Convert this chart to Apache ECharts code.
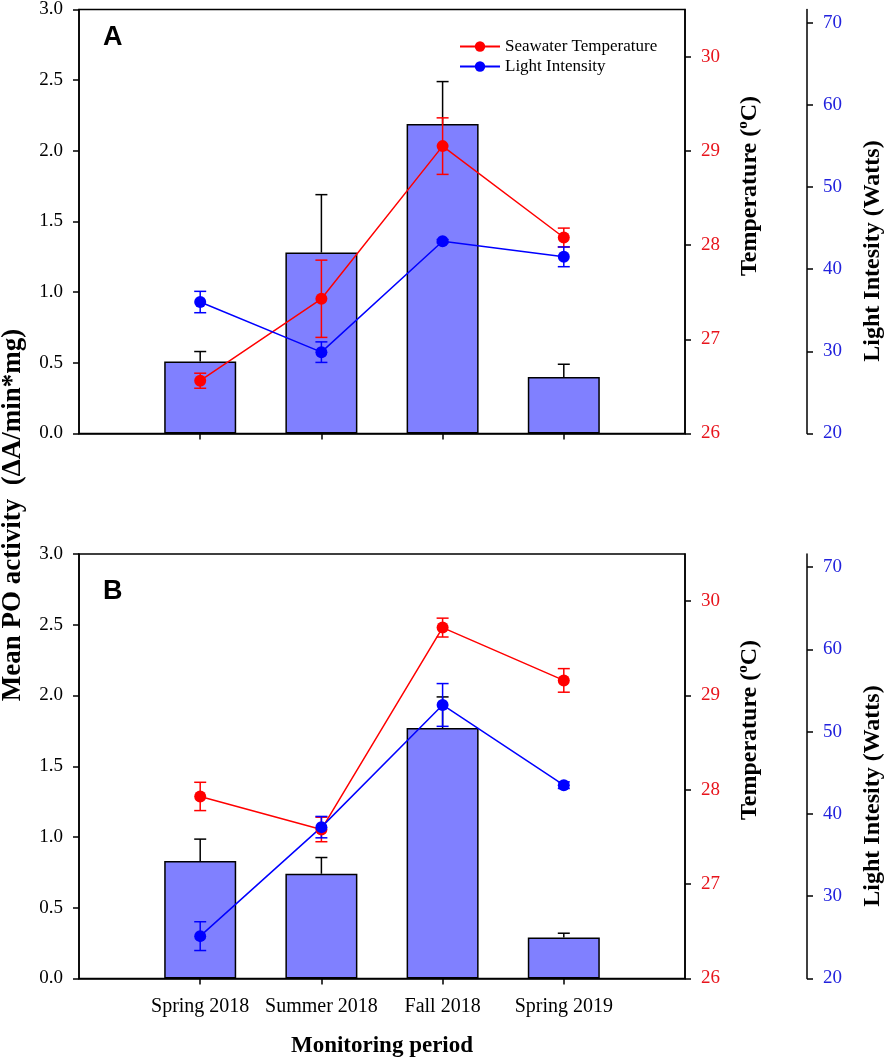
<!DOCTYPE html>
<html>
<head>
<meta charset="utf-8">
<script src="https://cdn.jsdelivr.net/npm/echarts@6/dist/echarts.min.js"></script>
<style>
html,body{margin:0;padding:0;background:#fff;}
#chart{width:886px;height:1060px;}
</style>
</head>
<body>
<div id="chart"></div>
<script>
// ---- data ----
const categories = ['Spring 2018', 'Summer 2018', 'Fall 2018', 'Spring 2019'];

const poA      = [0.51, 1.28, 2.19, 0.40];
const poErrA   = [0.07, 0.41, 0.30, 0.09];
const tempA    = [26.56, 27.43, 29.05, 28.08];
const tempErrA = [0.08, 0.41, 0.30, 0.10];
const lightA   = [36.0, 29.9, 43.4, 41.5];
const lightErrA= [1.3, 1.25, 0.2, 1.2];

const poB      = [0.83, 0.74, 1.77, 0.29];
const poErrB   = [0.155, 0.115, 0.22, 0.03];
const tempB    = [27.93, 27.58, 29.72, 29.16];
const tempErrB = [0.15, 0.13, 0.10, 0.125];
const lightB   = [25.15, 38.4, 53.25, 43.5];
const lightErrB= [1.75, 1.3, 2.6, 0.4];

const poTicks    = [0, 0.5, 1.0, 1.5, 2.0, 2.5, 3.0];
const tempTicks  = [26, 27, 28, 29, 30];
const lightTicks = [20, 30, 40, 50, 60, 70];

const panels = [
  {label:'A', po:poA, poErr:poErrA, temp:tempA, tempErr:tempErrA, light:lightA, lightErr:lightErrA},
  {label:'B', po:poB, poErr:poErrB, temp:tempB, tempErr:tempErrB, light:lightB, lightErr:lightErrB}
];

// ---- build ----
const SERIF = 'Liberation Serif';
const RED = '#ff0000', BLUE = '#0000ff', BARC = '#8080ff';
const xCats = [''].concat(categories, ['']);
const pad = a => [null].concat(a, [null]);

function errRender(color, upOnly, half) {
  return function (params, api) {
    const x = api.value(0), v = api.value(1), e = api.value(2);
    const top = api.coord([x, v + e]);
    const bot = api.coord([x, upOnly ? v : v - e]);
    const st = {stroke: color, lineWidth: 1.5};
    const ch = [
      {type:'line', shape:{x1:top[0], y1:top[1], x2:bot[0], y2:bot[1]}, style:st},
      {type:'line', shape:{x1:top[0]-half, y1:top[1], x2:top[0]+half, y2:top[1]}, style:st}
    ];
    if (!upOnly) ch.push({type:'line', shape:{x1:bot[0]-half, y1:bot[1], x2:bot[0]+half, y2:bot[1]}, style:st});
    return {type:'group', children: ch};
  };
}

const gridTops = [9, 554];
const grids = [], xAxes = [], yAxes = [], series = [];
const axLine = {show:true, lineStyle:{color:'#000', width:1.5}};

panels.forEach((p, g) => {
  grids.push({left:79, top:gridTops[g], width:606, height:424.5, show:true, borderColor:'#000', borderWidth:1.5, backgroundColor:'transparent'});
  xAxes.push({
    type:'category', gridIndex:g, data:xCats, boundaryGap:false,
    axisLine:axLine,
    axisTick:{show:true, length:6, interval:(i) => i >= 1 && i <= 4, lineStyle:{color:'#000', width:1.5}},
    axisLabel:{show:g === 1, interval:0, fontFamily:SERIF, fontSize:20, color:'#000', margin:18},
    splitLine:{show:false}
  });
  yAxes.push({
    type:'value', gridIndex:g, position:'left', min:0, max:3, interval:0.5,
    axisLine:axLine,
    axisTick:{show:true, length:6, lineStyle:{color:'#000', width:1.5}},
    axisLabel:{fontFamily:SERIF, fontSize:19, color:'#000', margin:16, formatter:v => v.toFixed(1)},
    splitLine:{show:false}
  });
  yAxes.push({
    type:'value', gridIndex:g, position:'right', min:26, max:30.5,
    axisLine:axLine,
    axisTick:{show:true, length:6, customValues:tempTicks, lineStyle:{color:'#000', width:1.5}},
    axisLabel:{customValues:tempTicks, fontFamily:SERIF, fontSize:19, color:'#e8141c', margin:16},
    splitLine:{show:false}
  });
  yAxes.push({
    type:'value', gridIndex:g, position:'right', offset:122, min:20, max:71.6,
    axisLine:axLine,
    axisTick:{show:true, length:6, customValues:lightTicks, lineStyle:{color:'#000', width:1.5}},
    axisLabel:{customValues:lightTicks, fontFamily:SERIF, fontSize:19, color:'#2222dd', margin:16},
    splitLine:{show:false}
  });
  const yb = 3 * g;
  series.push({
    type:'bar', name:'PO', xAxisIndex:g, yAxisIndex:yb, data:pad(p.po), barWidth:72,
    itemStyle:{color:BARC, borderColor:'#000', borderWidth:1.5}, z:2, silent:true
  });
  series.push({
    type:'custom', xAxisIndex:g, yAxisIndex:yb, z:3, silent:true,
    renderItem:errRender('#000', true, 6),
    data:p.po.map((v, i) => [i + 1, v, p.poErr[i]])
  });
  series.push({
    type:'line', name:'Seawater Temperature', xAxisIndex:g, yAxisIndex:yb + 1, data:pad(p.temp),
    symbol:'circle', symbolSize:12, itemStyle:{color:RED}, lineStyle:{color:RED, width:1.5}, z:6
  });
  series.push({
    type:'custom', xAxisIndex:g, yAxisIndex:yb + 1, z:5, silent:true,
    renderItem:errRender(RED, false, 6),
    data:p.temp.map((v, i) => [i + 1, v, p.tempErr[i]])
  });
  series.push({
    type:'line', name:'Light Intensity', xAxisIndex:g, yAxisIndex:yb + 2, data:pad(p.light),
    symbol:'circle', symbolSize:12, itemStyle:{color:BLUE}, lineStyle:{color:BLUE, width:1.5}, z:6
  });
  series.push({
    type:'custom', xAxisIndex:g, yAxisIndex:yb + 2, z:5, silent:true,
    renderItem:errRender(BLUE, false, 6),
    data:p.light.map((v, i) => [i + 1, v, p.lightErr[i]])
  });
});

function vText(x, y, text, size, rich) {
  return {
    type:'text', x:x, y:y, rotation:Math.PI / 2, z:100,
    style:{text:text, fontFamily:SERIF, fontWeight:'bold', fontSize:size, fill:'#000',
           align:'center', verticalAlign:'middle', rich:rich}
  };
}
const supRich = {sup:{fontFamily:SERIF, fontWeight:'bold', fontSize:15, verticalAlign:'top', lineHeight:28}};

const graphics = [
  {type:'text', x:103, y:38, z:100, style:{text:'A', fontFamily:'Liberation Sans', fontWeight:'bold', fontSize:27, fill:'#000', align:'left', verticalAlign:'middle'}},
  {type:'text', x:103, y:592, z:100, style:{text:'B', fontFamily:'Liberation Sans', fontWeight:'bold', fontSize:27, fill:'#000', align:'left', verticalAlign:'middle'}},
  vText(13, 515, 'Mean PO activity  (\u0394A/min*mg)', 27),
  vText(750, 186, 'Temperature ({sup|o}C)', 24, supRich),
  vText(750, 730, 'Temperature ({sup|o}C)', 24, supRich),
  vText(873, 251, 'Light Intesity (Watts)', 24),
  vText(873, 796, 'Light Intesity (Watts)', 24),
  {type:'text', x:382, y:1046, z:100, style:{text:'Monitoring period', fontFamily:SERIF, fontWeight:'bold', fontSize:23, fill:'#000', align:'center', verticalAlign:'middle'}}
];

const chart = echarts.init(document.getElementById('chart'), null, {renderer:'canvas'});
chart.setOption({
  animation:false,
  backgroundColor:'#fff',
  grid:grids, xAxis:xAxes, yAxis:yAxes, series:series,
  legend:{
    data:['Seawater Temperature', 'Light Intensity'], orient:'vertical', left:454, top:33,
    itemWidth:40, itemHeight:13, itemGap:3, selectedMode:false,
    textStyle:{fontFamily:SERIF, fontSize:17, color:'#000'}
  },
  graphic:graphics
});
</script>
</body>
</html>
